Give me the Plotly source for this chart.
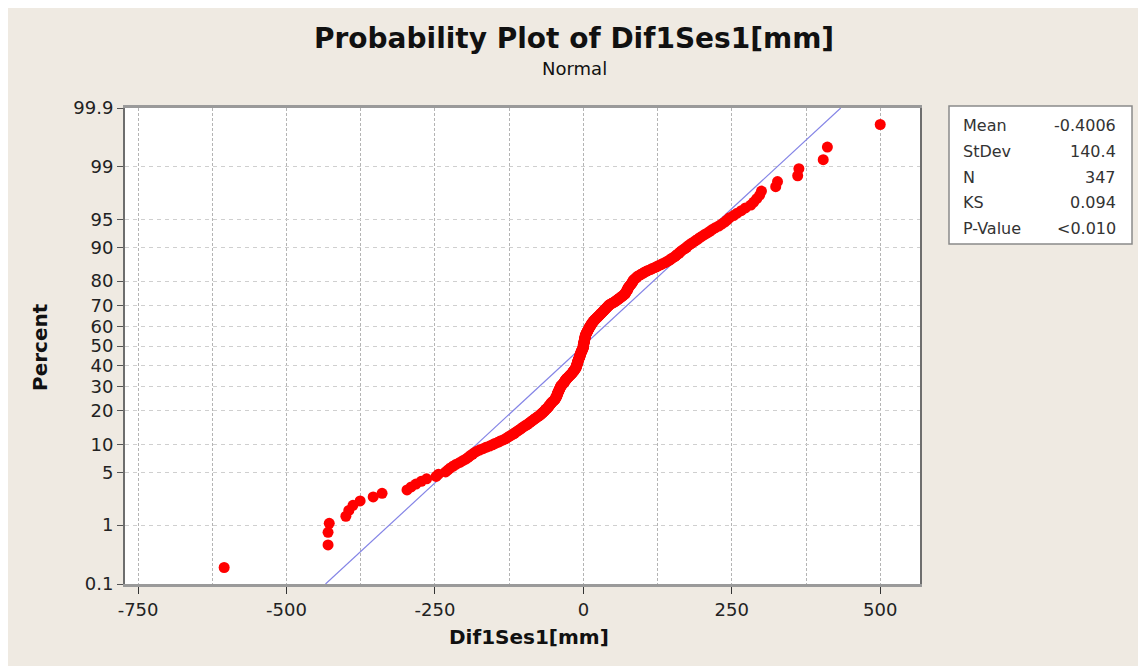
import plotly.graph_objects as go
from statistics import NormalDist

# ---------------- data ----------------
dif1ses1_mm = [
    -605, -430, -430, -428, -400, -395, -388, -376, -354, -339,
    -297, -290, -282, -273, -264, -248, -244, -232, -228, -224,
    -219, -214, -208, -203, -198, -194, -191, -187, -184, -180,
    -175, -169, -164, -158, -153, -149, -144, -140, -135, -131,
    -128, -125, -122, -119, -116, -114, -111, -109, -106, -104,
    -102, -99, -97, -94, -92, -90, -88, -86, -84, -82,
    -80, -78, -76, -74, -72, -71, -69, -68, -66, -65,
    -64, -63, -61, -60, -59, -58, -57, -56, -55, -54,
    -53, -52, -50, -49, -48, -47, -47, -46, -45, -45,
    -44, -44, -44, -43, -43, -42, -42, -41, -41, -40,
    -40, -39, -39, -38, -38, -37, -36, -35, -34, -33,
    -32, -32, -31, -30, -30, -29, -28, -27, -26, -25,
    -24, -23, -22, -21, -20, -19, -18, -18, -17, -16,
    -15, -15, -14, -13, -13, -12, -12, -12, -11, -11,
    -11, -10, -10, -10, -10, -9, -9, -9, -8, -8,
    -8, -7, -7, -6, -6, -6, -6, -5, -5, -5,
    -4, -4, -4, -3, -3, -2, -2, -2, -1, -1,
    0, 0, 0, 0, 0, 0, 0, 1, 1, 1,
    1, 1, 2, 2, 2, 2, 2, 3, 3, 3,
    3, 3, 4, 4, 4, 5, 5, 6, 6, 7,
    7, 8, 8, 9, 9, 10, 10, 11, 11, 12,
    13, 13, 14, 14, 15, 16, 17, 17, 18, 19,
    20, 21, 22, 23, 24, 25, 26, 27, 28, 29,
    30, 31, 32, 33, 34, 35, 36, 37, 38, 39,
    40, 41, 42, 43, 44, 46, 48, 50, 52, 54,
    55, 57, 58, 60, 61, 63, 64, 66, 67, 69,
    70, 71, 71, 72, 73, 74, 74, 75, 75, 76,
    77, 78, 79, 80, 81, 82, 83, 83, 84, 85,
    87, 88, 90, 91, 93, 96, 98, 101, 103, 106,
    109, 113, 116, 120, 123, 126, 130, 133, 137, 140,
    143, 146, 148, 151, 154, 156, 158, 161, 163, 165,
    168, 171, 174, 176, 179, 182, 186, 189, 193, 196,
    200, 204, 209, 213, 217, 222, 228, 233, 238,
    242, 246, 253, 259, 266, 273, 282, 287, 292, 297, 300,
    324, 327, 361, 363, 404, 411, 500,
]

y_tick_percent = [0.1, 1, 5, 10, 20, 30, 40, 50, 60, 70, 80, 90, 95, 99, 99.9]
y_tick_labels = ["0.1", "1", "5", "10", "20", "30", "40", "50", "60", "70",
                 "80", "90", "95", "99", "99.9"]
x_tick_values = [-750, -500, -250, 0, 250, 500]
x_tick_labels = ["-750", "-500", "-250", "0", "250", "500"]

stat_names = ["Mean", "StDev", "N", "KS", "P-Value"]
stat_values = ["-0.4006", "140.4", "347", "0.094", "<0.010"]
fit_mean = -0.4006
fit_stdev = 140.4

# ---------------- probability-plot scale ----------------
nd = NormalDist()
xs = sorted(dif1ses1_mm)
n = len(xs)
# Minitab median-rank plotting positions, shown on a normal (probit) axis
zs = [nd.inv_cdf((i - 0.3) / (n + 0.4)) for i in range(1, n + 1)]
z_lo = nd.inv_cdf(0.001)
z_hi = nd.inv_cdf(0.999)
fit_z = [z_lo, z_hi]
fit_x = [fit_mean + fit_stdev * z for z in fit_z]

# ---------------- figure geometry (pixels, page coords) ----------------
W, H = 1146, 666
OFF = 8  # page body margin
PL, PR, PT, PB = 125 - OFF, 920 - OFF, 108 - OFF, 584 - OFF


def xpap(px):
    return (px - OFF - PL) / (PR - PL)


def ypap(py):
    return (PB - (py - OFF)) / (PB - PT)


FONT = "DejaVu Sans"

fig = go.Figure()
fig.add_trace(go.Scatter(
    x=fit_x, y=fit_z, mode="lines",
    line=dict(color="#8484E6", width=1.2),
    hoverinfo="skip", showlegend=False,
))
fig.add_trace(go.Scatter(
    x=xs, y=zs, mode="markers",
    marker=dict(color="#FF0000", size=11, line=dict(width=0)),
    showlegend=False,
))

fig.update_layout(
    width=W, height=H,
    margin=dict(l=PL, r=W - PR, t=PT, b=H - PB),
    paper_bgcolor="#EFEAE2",
    plot_bgcolor="#FFFFFF",
    font=dict(family=FONT, color="#222222"),
    showlegend=False,
)

fig.update_xaxes(
    range=[-772, 567],
    tickvals=x_tick_values, ticktext=x_tick_labels,
    ticks="outside", ticklen=7, tickcolor="#333333", tickwidth=1,
    tickfont=dict(size=18, family=FONT, color="#222222"),
    showgrid=True, gridcolor="#B4B4B4", gridwidth=1, griddash="3px,2px",
    minor=dict(dtick=125, tick0=0, showgrid=True, gridcolor="#B4B4B4",
               griddash="3px,2px", ticks=""),
    showline=True, linecolor="#9A9A9A", linewidth=3, mirror=True,
    zeroline=False, automargin=False,
)
fig.update_yaxes(
    range=[z_lo, z_hi],
    tickvals=[nd.inv_cdf(p / 100.0) for p in y_tick_percent],
    ticktext=y_tick_labels,
    ticks="outside", ticklen=6, tickcolor="#555555", tickwidth=1,
    tickfont=dict(size=18, family=FONT, color="#222222"),
    showgrid=True, gridcolor="#CFCFCF", gridwidth=1, griddash="4px,4px",
    showline=True, linecolor="#6E6E6E", linewidth=2, mirror=True,
    zeroline=False, automargin=False,
)

annotations = [
    dict(text="<b>Probability Plot of Dif1Ses1[mm]</b>", xref="paper", yref="paper",
         x=xpap(574), y=ypap(38), xanchor="center", yanchor="middle",
         showarrow=False, font=dict(size=28, family=FONT, color="#111111")),
    dict(text="Normal", xref="paper", yref="paper",
         x=xpap(574), y=ypap(68), xanchor="center", yanchor="middle",
         showarrow=False, font=dict(size=18, family=FONT, color="#111111")),
    dict(text="<b>Dif1Ses1[mm]</b>", xref="paper", yref="paper",
         x=xpap(529), y=ypap(637), xanchor="center", yanchor="middle",
         showarrow=False, font=dict(size=20, family=FONT, color="#111111")),
    dict(text="<b>Percent</b>", xref="paper", yref="paper", textangle=-90,
         x=xpap(40), y=ypap(347), xanchor="center", yanchor="middle",
         showarrow=False, font=dict(size=20, family=FONT, color="#111111")),
]

row_y = [126, 151.5, 177, 202.5, 228]
for name, val, ry in zip(stat_names, stat_values, row_y):
    annotations.append(dict(text=name, xref="paper", yref="paper",
                            x=xpap(961), y=ypap(ry), xanchor="left", yanchor="middle",
                            showarrow=False, font=dict(size=16, family=FONT, color="#333333")))
    annotations.append(dict(text=val, xref="paper", yref="paper",
                            x=xpap(1118), y=ypap(ry), xanchor="right", yanchor="middle",
                            showarrow=False, font=dict(size=16, family=FONT, color="#333333")))

fig.update_layout(annotations=annotations)

fig.add_shape(type="rect", xref="paper", yref="paper",
              x0=xpap(949), x1=xpap(1132), y0=ypap(244), y1=ypap(106),
              fillcolor="#FFFFFF", line=dict(color="#8A8A8A", width=1.5),
              layer="below")

fig.write_html("out.html")
